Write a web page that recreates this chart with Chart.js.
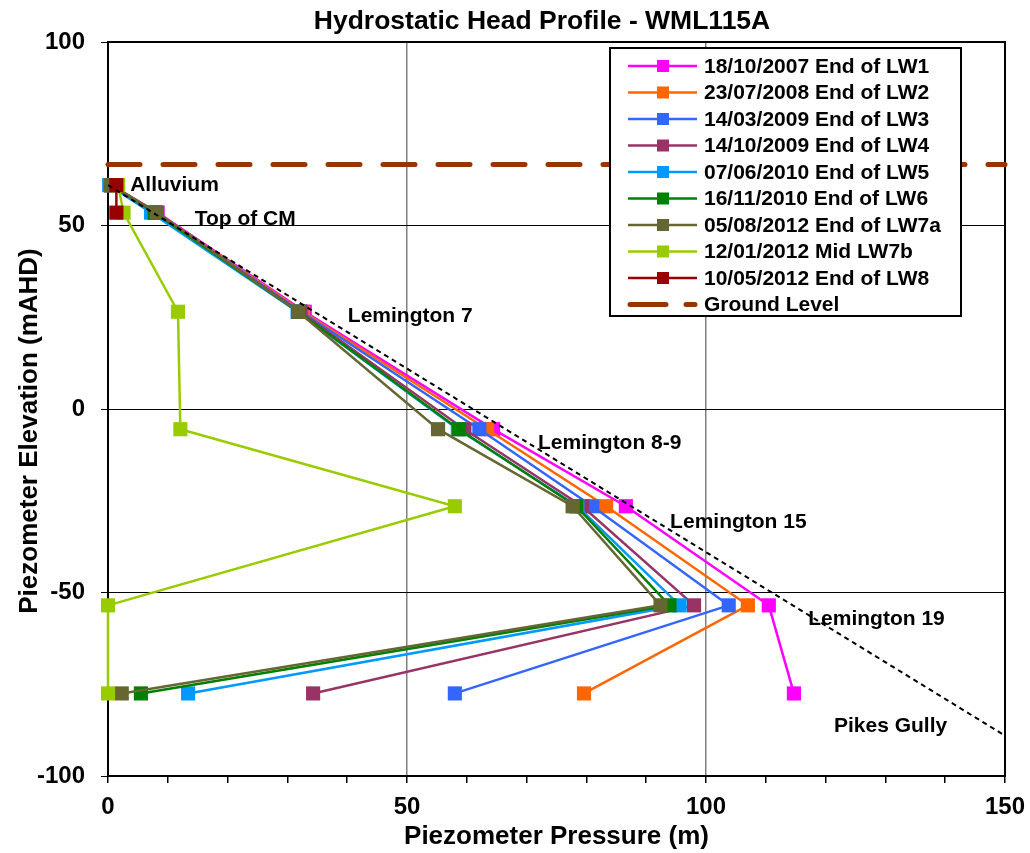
<!DOCTYPE html>
<html>
<head>
<meta charset="utf-8">
<title>Hydrostatic Head Profile - WML115A</title>
<script src="https://cdn.jsdelivr.net/npm/chart.js@4/dist/chart.umd.min.js"></script>
<style>
    html, body { margin: 0; padding: 0; background: #fff; }
    #contenedor { width: 1030px; height: 853px; }
</style>
</head>
<body>
<div id="contenedor"><canvas id="grafico"></canvas></div>
<script>
// Elevacion de cada piezometro (mAHD) y nombre de la unidad
const elevaciones = [61, 53.5, 26.5, -5.5, -26.5, -53.5, -77.5];
const unidades = ['Alluvium', 'Top of CM', 'Lemington 7', 'Lemington 8-9', 'Lemington 15', 'Lemington 19', 'Pikes Gully'];

// Presion medida (m) en cada piezometro, una lista por fecha
const etiquetas = [
    '18/10/2007 End of LW1',
    '23/07/2008 End of LW2',
    '14/03/2009 End of LW3',
    '14/10/2009 End of LW4',
    '07/06/2010 End of LW5',
    '16/11/2010 End of LW6',
    '05/08/2012 End of LW7a',
    '12/01/2012 Mid LW7b',
    '10/05/2012 End of LW8'
];
const presionLW1 = [0.5, 8.3, 32.9, 64.4, 86.6, 110.5, 114.7];
const presionLW2 = [0.5, 8.1, 32.6, 63.4, 83.3, 107.0, 79.6];
const presionLW3 = [0.5, 8.0, 32.3, 62.1, 81.0, 103.8, 58.0];
const presionLW4 = [0.5, 7.8, 32.1, 59.6, 79.3, 98.0, 34.3];
const presionLW5 = [0.2, 7.2, 31.7, 58.5, 78.5, 95.6, 13.4];
const presionLW6 = [0.5, 7.8, 31.8, 58.7, 78.3, 93.9, 5.5];
const presionLW7a = [0.5, 8.2, 31.8, 55.2, 77.7, 92.4, 2.3];
const presionLW7b = [1.7, 2.6, 11.7, 12.1, 58.0, 0, 0];
const presionLW8 = [1.4, 1.4];

// Nivel del terreno y linea hidrostatica
const nivelTerreno = 66.6;
const hidrostatica = [[0, 61], [150, -89]];

// Ejes
const ejeX = [0, 150, 50];
const ejeY = [-100, 100, 50];

const colores = ['#FF00FF', '#FF6600', '#3366FF', '#993366', '#0099FF', '#008000', '#666633', '#99CC00', '#990000'];
const series = [presionLW1, presionLW2, presionLW3, presionLW4, presionLW5, presionLW6, presionLW7a, presionLW7b, presionLW8];

// Ubicacion de los nombres de unidad (en valores de los ejes)
const posUnidades = [[3.7, 61], [14.5, 51.8], [40.1, 25.3], [71.9, -9.3], [94, -30.8], [117.1, -57.2], [121.4, -86.4]];

const fuente = '"Liberation Sans", Arial, sans-serif';

var datasets = [];

series.forEach(function (valores, i) {
    datasets.push({
        label: etiquetas[i],
        data: valores.map(function (p, j) { return { x: p, y: elevaciones[j] }; }),
        showLine: true,
        borderColor: colores[i],
        backgroundColor: colores[i],
        borderWidth: 2.5,
        pointStyle: 'rect',
        pointRadius: 10,
        pointHoverRadius: 10,
        pointBorderWidth: 0,
        clip: false,
        order: 20 - i
    });
});

datasets.push({
    label: 'Ground Level',
    data: [{ x: ejeX[0], y: nivelTerreno }, { x: ejeX[1], y: nivelTerreno }],
    showLine: true,
    borderColor: '#993300',
    borderWidth: 5,
    borderDash: [32, 23],
    borderCapStyle: 'round',
    pointRadius: 0,
    clip: false,
    order: 5
});

datasets.push({
    label: '',
    data: hidrostatica.map(function (p) { return { x: p[0], y: p[1] }; }),
    showLine: true,
    borderColor: '#000',
    borderWidth: 2,
    borderDash: [5, 4],
    pointRadius: 0,
    order: 1
});

//Borde, titulo y nombres de unidades
const extras = {
    id: 'extras',
    beforeDatasetsDraw: function (chart) {
        var ctx = chart.ctx;
        var a = chart.chartArea;
        ctx.save();
        ctx.strokeStyle = '#000';
        ctx.lineWidth = 2;
        ctx.strokeRect(a.left, a.top, a.right - a.left, a.bottom - a.top);
        ctx.restore();
    },
    afterDraw: function (chart) {
        var ctx = chart.ctx;
        var a = chart.chartArea;
        var x = chart.scales.x;
        var y = chart.scales.y;
        ctx.save();
        ctx.fillStyle = '#000';

        ctx.font = 'bold 26.5px ' + fuente;
        ctx.textAlign = 'center';
        ctx.textBaseline = 'middle';
        ctx.fillText('Hydrostatic Head Profile - WML115A', 542, 22);

        ctx.save();
        ctx.translate(30, (a.top + a.bottom) / 2 + 22);
        ctx.rotate(-Math.PI / 2);
        ctx.font = 'bold 26px ' + fuente;
        ctx.fillText('Piezometer Elevation (mAHD)', 0, 0);
        ctx.restore();

        ctx.font = 'bold 21px ' + fuente;
        ctx.textAlign = 'left';
        unidades.forEach(function (nombre, i) {
            ctx.fillText(nombre, x.getPixelForValue(posUnidades[i][0]), y.getPixelForValue(posUnidades[i][1]));
        });

        // Leyenda
        var lx = 610, ly = 48, lw = 351, lh = 268, paso = 26.5;
        ctx.fillStyle = '#fff';
        ctx.fillRect(lx, ly, lw, lh);
        ctx.strokeStyle = '#000';
        ctx.lineWidth = 2;
        ctx.strokeRect(lx, ly, lw, lh);
        ctx.font = 'bold 21px ' + fuente;
        ctx.textBaseline = 'middle';
        chart.data.datasets.filter(function (d) { return d.label; }).forEach(function (d, i) {
            var cy = ly + 18 + i * paso;
            ctx.strokeStyle = d.borderColor;
            if (d.borderDash && d.borderDash.length) {
                ctx.lineWidth = 5;
                ctx.lineCap = 'round';
                ctx.beginPath();
                ctx.moveTo(lx + 20, cy); ctx.lineTo(lx + 56, cy);
                ctx.moveTo(lx + 76, cy); ctx.lineTo(lx + 85, cy);
                ctx.stroke();
                ctx.lineCap = 'butt';
            } else {
                ctx.lineWidth = 2.5;
                ctx.beginPath();
                ctx.moveTo(lx + 18, cy); ctx.lineTo(lx + 87, cy);
                ctx.stroke();
                ctx.fillStyle = d.backgroundColor;
                ctx.fillRect(lx + 47, cy - 6, 12, 12);
            }
            ctx.fillStyle = '#000';
            ctx.fillText(d.label, lx + 94, cy + 1);
        });
        ctx.restore();
    }
};

var grafico = new Chart(document.getElementById('grafico').getContext('2d'), {
    type: 'scatter',
    data: { datasets: datasets },
    plugins: [extras],
    options: {
        responsive: true,
        maintainAspectRatio: false,
        animation: false,
        layout: { autoPadding: false, padding: { top: 42, right: 25, left: 0, bottom: 0 } },
        plugins: {
            legend: { display: false },
            title: { display: false },
            tooltip: { enabled: false }
        },
        scales: {
            x: {
                type: 'linear',
                min: ejeX[0],
                max: ejeX[1],
                afterFit: function (s) {
                    s.height = 77;
                    s.paddingLeft = 0;
                    s.paddingRight = 0;
                },
                afterBuildTicks: function (s) {
                    var t = [];
                    for (var v = ejeX[0]; v <= ejeX[1]; v += 10) t.push({ value: v });
                    s.ticks = t;
                },
                ticks: {
                    autoSkip: false,
                    maxRotation: 0,
                    padding: 10,
                    color: '#000',
                    font: { family: fuente, size: 24, weight: 'bold' },
                    callback: function (v) { return v % ejeX[2] === 0 ? v : ''; }
                },
                grid: {
                    color: function (c) {
                        var v = c.tick && c.tick.value;
                        return (v % ejeX[2] === 0 && v > ejeX[0] && v < ejeX[1]) ? '#808080' : 'rgba(0,0,0,0)';
                    },
                    lineWidth: 1.5,
                    tickColor: '#000',
                    tickLength: 7
                },
                border: { color: '#000', width: 2 },
                title: {
                    display: true,
                    text: 'Piezometer Pressure (m)',
                    color: '#000',
                    font: { family: fuente, size: 26, weight: 'bold' },
                    padding: { top: 0, bottom: 1 }
                }
            },
            y: {
                type: 'linear',
                min: ejeY[0],
                max: ejeY[1],
                afterFit: function (s) {
                    s.width = 108;
                    s.paddingTop = 0;
                    s.paddingBottom = 0;
                },
                ticks: {
                    stepSize: ejeY[2],
                    padding: 16,
                    color: '#000',
                    font: { family: fuente, size: 24, weight: 'bold' }
                },
                grid: {
                    color: function (c) {
                        var v = c.tick && c.tick.value;
                        return (v > ejeY[0] && v < ejeY[1]) ? '#000' : 'rgba(0,0,0,0)';
                    },
                    lineWidth: 1,
                    tickColor: '#000',
                    tickLength: 7
                },
                border: { color: '#000', width: 2 }
            }
        }
    }
});
</script>
</body>
</html>
